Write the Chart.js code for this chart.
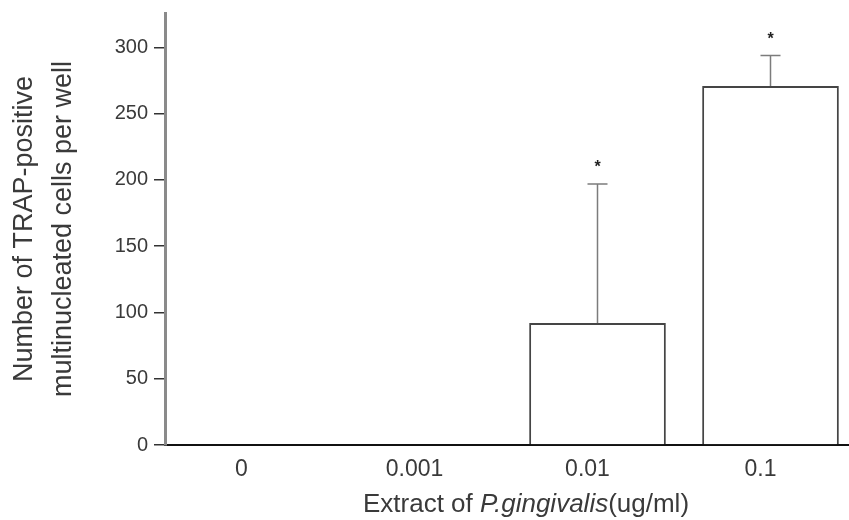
<!DOCTYPE html>
<html><head><meta charset="utf-8">
<script src="https://cdn.jsdelivr.net/npm/chart.js@4/dist/chart.umd.min.js"></script>
<style>
html,body{margin:0;padding:0;background:#fff;overflow:hidden;}
#wrap{width:849px;height:520px;overflow:hidden;position:relative;background:#fff;}
#wrap canvas{display:block;}
</style></head><body>
<div id="wrap"><canvas id="c" width="860" height="520" style="width:860px;height:520px"></canvas></div>
<script>
const categories = ['0', '0.001', '0.01', '0.1'];
const meanValues = [0, 0, 92, 271];
const errorValues = [0, 0, 105, 23];
const significance = ['', '', '*', '*'];
const yTickValues = [0, 50, 100, 150, 200, 250, 300];
const yAxisMax = 326;
const yTitleLines = ['Number of TRAP-positive', 'multinucleated cells per well'];
const xTitleParts = ['Extract of ', 'P.gingivalis', '(ug/ml)'];

const FAMILY = '"Liberation Sans", Arial, Helvetica, sans-serif';
const TEXT = '#3a3a3a';

const errorBarPlugin = {
  id: 'errorBars',
  afterDatasetsDraw(chart) {
    const ctx = chart.ctx;
    const meta = chart.getDatasetMeta(0);
    const ys = chart.scales.y;
    ctx.save();
    meta.data.forEach((bar, i) => {
      const err = errorValues[i];
      const top = ys.getPixelForValue(meanValues[i] + err);
      if (err > 0) {
        ctx.strokeStyle = '#7c7c7c';
        ctx.lineWidth = 1.5;
        ctx.beginPath();
        ctx.moveTo(bar.x, bar.y);
        ctx.lineTo(bar.x, top);
        ctx.moveTo(bar.x - 10, top);
        ctx.lineTo(bar.x + 10, top);
        ctx.stroke();
      }
      if (significance[i]) {
        ctx.fillStyle = '#222';
        ctx.font = 'bold 16px ' + FAMILY;
        ctx.textAlign = 'center';
        ctx.textBaseline = 'middle';
        ctx.fillText(significance[i], bar.x, top - 16);
      }
    });
    ctx.restore();
  }
};

const xTitlePlugin = {
  id: 'xTitle',
  afterDraw(chart) {
    const ctx = chart.ctx;
    const fonts = ['26px ' + FAMILY, 'italic 26px ' + FAMILY, '26px ' + FAMILY];
    ctx.save();
    let total = 0;
    const widths = xTitleParts.map((t, i) => { ctx.font = fonts[i]; const w = ctx.measureText(t).width; total += w; return w; });
    const a = chart.chartArea;
    let x = (a.left + 849) / 2 + 19 - total / 2;
    const y = chart.height - 8;
    ctx.fillStyle = TEXT;
    ctx.textAlign = 'left';
    ctx.textBaseline = 'alphabetic';
    xTitleParts.forEach((t, i) => { ctx.font = fonts[i]; ctx.fillText(t, x, y); x += widths[i]; });
    ctx.restore();
  }
};

new Chart(document.getElementById('c'), {
  type: 'bar',
  data: {
    labels: categories,
    datasets: [{
      data: meanValues,
      backgroundColor: '#ffffff',
      borderColor: '#454545',
      borderWidth: 2,
      barPercentage: 0.79,
      categoryPercentage: 1.0
    }]
  },
  options: {
    responsive: false,
    animation: false,
    layout: { padding: { top: 13, right: 3, left: 0, bottom: 0 } },
    plugins: { legend: { display: false }, tooltip: { enabled: false }, title: { display: false } },
    scales: {
      x: {
        type: 'category',
        grid: { display: false, drawTicks: false },
        border: { display: true, color: '#111', width: 2 },
        ticks: { padding: 11, labelOffset: -10, color: TEXT, font: { size: 23, family: FAMILY } },
        afterFit(scale) { scale.height = 75; }
      },
      y: {
        min: 0,
        max: yAxisMax,
        afterBuildTicks(scale) { scale.ticks = yTickValues.map(v => ({ value: v })); },
        grid: { drawOnChartArea: false, drawTicks: true, tickLength: 11, color: '#333', lineWidth: 1.5 },
        border: { display: true, color: '#8a8a8a', width: 3 },
        ticks: { padding: 6, color: TEXT, font: { size: 20, family: FAMILY } },
        title: {
          display: true,
          text: yTitleLines,
          color: TEXT,
          font: { size: 27, family: FAMILY, lineHeight: 1.444 },
          padding: { top: 5, bottom: 0 }
        },
        afterFit(scale) { scale.width = 165; scale.paddingTop = 0; }
      }
    }
  },
  plugins: [errorBarPlugin, xTitlePlugin]
});
</script>
</body></html>
